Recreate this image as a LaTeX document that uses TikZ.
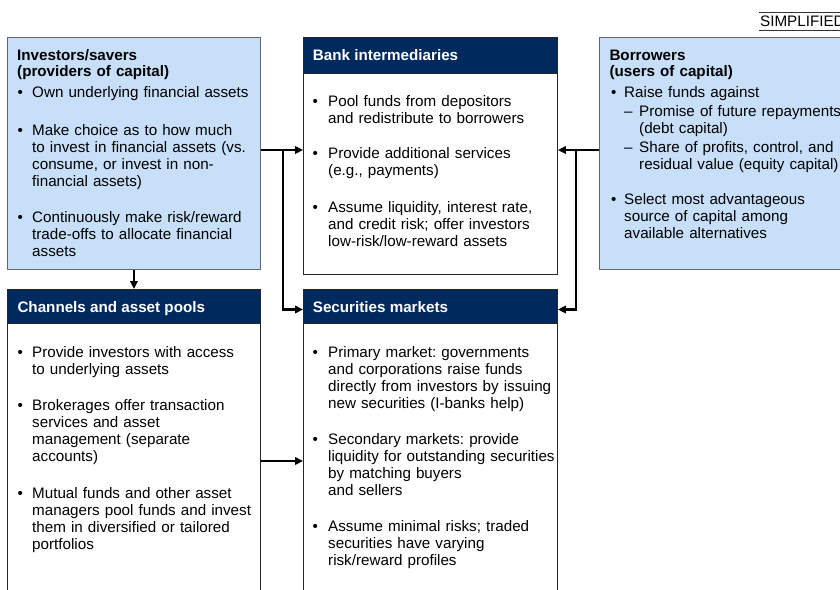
\documentclass[tikz,border=0pt]{standalone}
\usepackage{fontspec}
\setmainfont{Liberation Sans}
\usetikzlibrary{arrows.meta}
\definecolor{navy}{RGB}{0,42,94}
\definecolor{lblue}{RGB}{199,223,248}
\newcommand{\fs}{\fontsize{15.2}{16.9}\selectfont}
\newcommand{\fst}{\fontsize{15.2}{16}\selectfont}
\frenchspacing
\begin{document}
\begin{tikzpicture}[x=1pt,y=-1pt,
  lbox/.style={draw=black!60, fill=lblue, line width=0.9pt, anchor=north west, inner sep=0pt},
  wbox/.style={draw=black!85, fill=white, line width=0.9pt, anchor=north west, inner sep=0pt},
  hdr/.style={draw=black!85, fill=navy, line width=0.9pt, anchor=north west, inner sep=0pt},
  txt/.style={anchor=north west, inner sep=0pt, text width=300pt, align=left, font=\fs,
              execute at begin node={\frenchspacing\rule{0pt}{12pt}}},
  ttl/.style={anchor=north west, inner sep=0pt, text width=300pt, align=left, font=\fst\bfseries,
              execute at begin node={\rule{0pt}{12pt}}},
  bul/.style={anchor=base west, inner sep=0pt, font=\fs},
  hdt/.style={anchor=base west, inner sep=0pt, font=\fs\bfseries, text=white},
  arr/.style={line width=2.2pt, -{Triangle[length=8pt,width=7.5pt]}},
  lin/.style={line width=2.2pt}
]
\useasboundingbox (0,0) rectangle (840,589);
\clip (0,0) rectangle (840,589);

% boxes
\node[lbox, minimum width=253pt, minimum height=232pt] (inv) at (7,37) {};
\node[wbox, minimum width=254pt, minimum height=237pt] (bank) at (303,37) {};
\node[hdr, minimum width=254pt, minimum height=36pt] (bankh) at (303,37) {};
\node[lbox, minimum width=260pt, minimum height=232pt] (bor) at (599,37) {};
\node[wbox, minimum width=253pt, minimum height=330pt] (chan) at (7,289) {};
\node[hdr, minimum width=253pt, minimum height=34pt] (chanh) at (7,289) {};
\node[wbox, minimum width=254pt, minimum height=330pt] (sec) at (303,289) {};
\node[hdr, minimum width=254pt, minimum height=34pt] (sech) at (303,289) {};

% simplified tag
\node[bul] (simp) at (760,26.5) {SIMPLIFIED};
\draw[line width=0.9pt, black!80] (759,12) -- (841,12);
\draw[line width=0.9pt, black!80] (759,30) -- (841,30);

% connector coordinates
\coordinate (ya) at (0,150);
\coordinate (yb) at (0,309.5);
\coordinate (yc) at (0,461);
\coordinate (xl) at (283,0);
\coordinate (xr) at (576,0);

% arrows
\draw[arr] (inv.south) -- (chanh.north);
\draw[arr] (inv.east |- ya) -- (bank.west |- ya);
\draw[lin] (xl |- ya) -- (xl |- yb);
\draw[arr] ([xshift=-1.1pt]xl |- yb) -- (sech.west |- yb);
\draw[arr] (bor.west |- ya) -- (bank.east |- ya);
\draw[lin] (xr |- ya) -- (xr |- yb);
\draw[arr] ([xshift=1.1pt]xr |- yb) -- (sech.east |- yb);
\draw[arr] (chan.east |- yc) -- (sec.west |- yc);

% Investors
\node[ttl] (invt) at (17,48.5) {Investors/savers\\(providers of capital)};
\node[bul] (invb1) at (17.5,97.5) {\textbullet};
\node[txt] (invx1) at (32,85.5) {Own underlying financial assets};
\node[bul] (invb2) at (17.5,135.5) {\textbullet};
\node[txt] (invx2) at (32,123.5) {Make choice as to how much\\to invest in financial assets (vs.\\consume, or invest in non-\\financial assets)};
\node[bul] (invb3) at (17.5,222.5) {\textbullet};
\node[txt] (invx3) at (32,210.5) {Continuously make risk/reward\\trade-offs to allocate financial\\assets};

% Bank
\node[hdt] (bankt) at (312.7,60.5) {Bank intermediaries};
\node[bul] (bankb1) at (312.5,106) {\textbullet};
\node[txt] (bankx1) at (328,94) {Pool funds from depositors\\and redistribute to borrowers};
\node[bul] (bankb2) at (312.5,158) {\textbullet};
\node[txt] (bankx2) at (328,146) {Provide additional services\\(e.g., payments)};
\node[bul] (bankb3) at (312.5,212) {\textbullet};
\node[txt] (bankx3) at (328,200) {Assume liquidity, interest rate,\\and credit risk; offer investors\\low-risk/low-reward assets};

% Borrowers
\node[ttl] (bort) at (609.3,48.5) {Borrowers\\(users of capital)};
\node[bul] (borb1) at (611,97.5) {\textbullet};
\node[txt] (borx1) at (624,85.5) {Raise funds against};
\node[bul] (bord1) at (624,116.5) {\textendash};
\node[txt] (bors1) at (639,104.5) {Promise of future repayments\\(debt capital)};
\node[bul] (bord2) at (624,152.5) {\textendash};
\node[txt] (bors2) at (639,140.5) {Share of profits, control, and\\residual value (equity capital)};
\node[bul] (borb2) at (611,204.5) {\textbullet};
\node[txt] (borx2) at (624,192.5) {Select most advantageous\\source of capital among\\available alternatives};

% Channels
\node[hdt] (chant) at (17.3,312) {Channels and asset pools};
\node[bul] (chanb1) at (17.5,357.5) {\textbullet};
\node[txt] (chanx1) at (32,345.5) {Provide investors with access\\to underlying assets};
\node[bul] (chanb2) at (17.5,410.5) {\textbullet};
\node[txt] (chanx2) at (32,398.5) {Brokerages offer transaction\\services and asset\\management (separate\\accounts)};
\node[bul] (chanb3) at (17.5,498.5) {\textbullet};
\node[txt] (chanx3) at (32,486.5) {Mutual funds and other asset\\managers pool funds and invest\\them in diversified or tailored\\portfolios};

% Securities
\node[hdt] (sect) at (312.7,312) {Securities markets};
\node[bul] (secb1) at (312.5,357.5) {\textbullet};
\node[txt] (secx1) at (328,345.5) {Primary market: governments\\and corporations raise funds\\directly from investors by issuing\\new securities (I-banks help)};
\node[bul] (secb2) at (312.5,444.5) {\textbullet};
\node[txt] (secx2) at (328,432.5) {Secondary markets: provide\\liquidity for outstanding securities\\by matching buyers\\and sellers};
\node[bul] (secb3) at (312.5,531.5) {\textbullet};
\node[txt] (secx3) at (328,519.5) {Assume minimal risks; traded\\securities have varying\\risk/reward profiles};
\end{tikzpicture}
\end{document}
